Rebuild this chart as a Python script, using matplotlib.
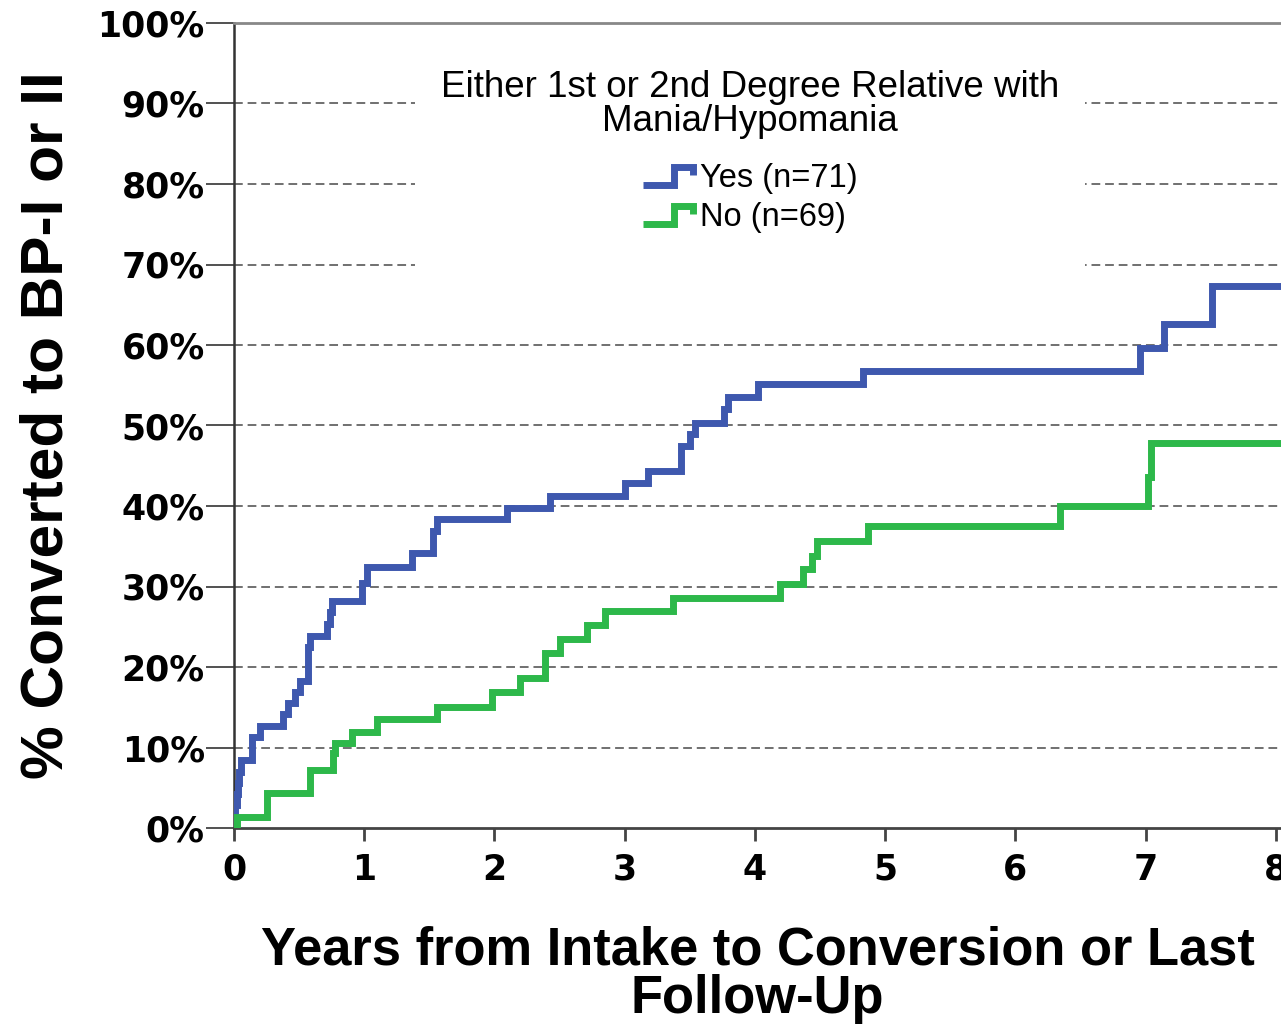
import numpy as np
import matplotlib
matplotlib.use("Agg")
import matplotlib.pyplot as plt
from matplotlib.lines import Line2D
from matplotlib.patches import Rectangle
from matplotlib.legend_handler import HandlerBase

# Kaplan-Meier style cumulative conversion (%)
yes_times = [0, 0.005, 0.01, 0.02, 0.03, 0.04, 0.05, 0.138, 0.20, 0.376, 0.415,
             0.469, 0.507, 0.57, 0.585, 0.714, 0.737, 0.753, 0.985, 1.02, 1.367,
             1.528, 1.56, 2.10, 2.43, 3.00, 3.18, 3.43, 3.50, 3.54, 3.76, 3.79,
             4.02, 4.83, 6.96, 7.14, 7.51, 8.1]
yes_pct = [0, 1.4, 2.8, 4.2, 5.6, 7.0, 8.5, 11.3, 12.7, 14.1, 15.5,
           16.9, 18.3, 22.5, 23.9, 25.4, 26.8, 28.2, 30.4, 32.4, 34.1,
           36.9, 38.4, 39.8, 41.2, 42.9, 44.4, 47.5, 48.9, 50.3, 52.0, 53.6,
           55.1, 56.8, 59.6, 62.6, 67.3, 67.3]

no_times = [0, 0.02, 0.253, 0.584, 0.76, 0.776, 0.906, 1.098, 1.559, 1.98, 2.197,
            2.39, 2.50, 2.71, 2.85, 3.37, 4.19, 4.37, 4.44, 4.48, 4.87, 6.34,
            7.02, 7.04, 8.1]
no_pct = [0, 1.4, 4.4, 7.2, 9.3, 10.5, 11.9, 13.6, 15.0, 16.9, 18.6,
          21.8, 23.5, 25.2, 27.0, 28.6, 30.3, 32.2, 33.8, 35.7, 37.5, 40.0,
          43.6, 47.8, 47.8]

series_labels = ["Yes (n=71)", "No (n=69)"]
legend_title = "Either 1st or 2nd Degree Relative with\nMania/Hypomania"
x_ticks = [0, 1, 2, 3, 4, 5, 6, 7, 8]
y_ticks = [0, 10, 20, 30, 40, 50, 60, 70, 80, 90, 100]

BLUE = "#3E58AE"
GREEN = "#2DB84A"


class StepHandler(HandlerBase):
    # legend icon drawn as a small step, like the SPSS survival legend
    def create_artists(self, legend, orig_handle, xdescent, ydescent,
                       width, height, fontsize, trans):
        xs = np.array([0, 0.6, 0.6, 0.97, 0.97]) * width - xdescent
        ys = np.array([0.1, 0.1, 0.9, 0.9, 0.55]) * height - ydescent
        ln = Line2D(xs, ys, color=orig_handle.get_color(),
                    linewidth=orig_handle.get_linewidth(),
                    solid_joinstyle="miter", solid_capstyle="butt")
        ln.set_transform(trans)
        return [ln]


fig = plt.figure(figsize=(12.81, 10.25), dpi=100)
ax = fig.add_axes([234 / 1281, 197 / 1025, 1 - 234 / 1281, 805 / 1025])

# grid
for yv in y_ticks[1:-1]:
    ax.axhline(yv, color="#707070", lw=1.4, ls=(0, (4.5, 2.5)), zorder=1)

h_yes, = ax.step(yes_times, yes_pct, where="post", color=BLUE, lw=5,
                 solid_joinstyle="miter", zorder=3)
h_no, = ax.step(no_times, no_pct, where="post", color=GREEN, lw=5,
                solid_joinstyle="miter", zorder=3)

ax.set_xlim(0, 8.04)
ax.set_ylim(0, 100)
ax.set_xticks(x_ticks)
ax.set_yticks(y_ticks)
ax.set_yticklabels([f"{v}%" for v in y_ticks])

for lab in ax.get_xticklabels() + ax.get_yticklabels():
    lab.set_fontfamily("DejaVu Sans")
    lab.set_fontweight("bold")
    lab.set_fontsize(25)

ax.tick_params(axis="y", direction="out", length=20, width=1.2, pad=1,
               color="#333333")
ax.tick_params(axis="x", direction="out", length=9, width=2, pad=9,
               color="#444444")

ax.spines["right"].set_visible(False)
ax.spines["top"].set_color("#888888")
ax.spines["top"].set_linewidth(2)
ax.spines["left"].set_color("#333333")
ax.spines["left"].set_linewidth(1.8)
ax.spines["bottom"].set_color("#444444")
ax.spines["bottom"].set_linewidth(2)

ax.set_xlabel("Years from Intake to Conversion or Last\nFollow-Up",
              family="Liberation Sans", fontweight="bold", fontsize=37.8,
              linespacing=0.97)
ax.xaxis.set_label_coords(0.5, -0.121)
ax.set_ylabel("% Converted to BP-I or II", family="Liberation Sans",
              fontweight="bold", fontsize=43.5)
ax.yaxis.set_label_coords(-0.152, 0.5)

# white block behind the legend hides the grid there
ax.add_patch(Rectangle((0.1729, 0.668), 0.64, 0.305, transform=ax.transAxes,
                       facecolor="white", edgecolor="none", zorder=2))
ax.text(0.493, 0.9416, legend_title, transform=ax.transAxes, ha="center",
        va="top", family="Liberation Sans", fontsize=26.5, linespacing=0.95,
        zorder=4)

leg = ax.legend([h_yes, h_no], series_labels,
                handler_map={Line2D: StepHandler()},
                loc="upper center", bbox_to_anchor=(0.493, 0.826),
                prop={"family": "Liberation Sans", "size": 23.5},
                frameon=False, borderpad=0, borderaxespad=0,
                handlelength=1.6, handletextpad=0.15, labelspacing=0.25)
leg.set_zorder(4)

fig.savefig("out.png", dpi=100)
